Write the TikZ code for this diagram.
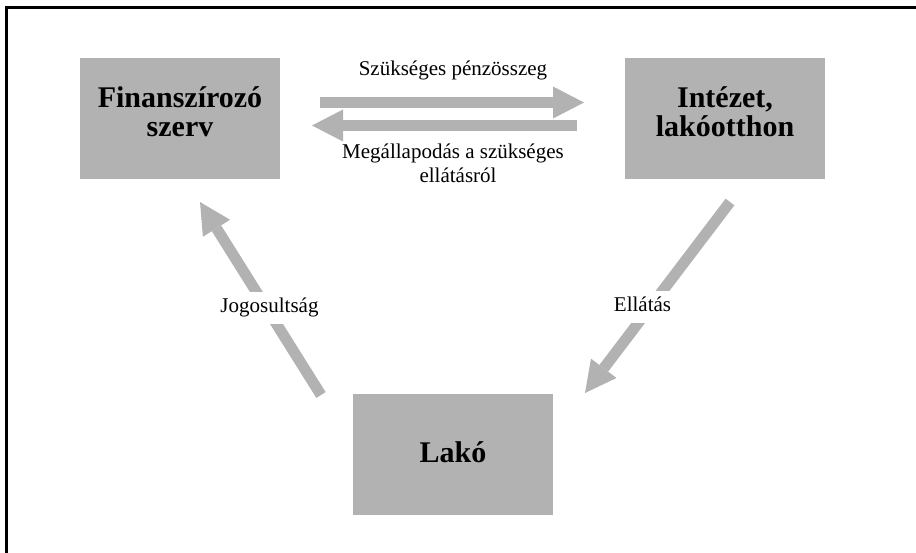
\documentclass[tikz,border=0pt]{standalone}
\usepackage{fontspec}
\setmainfont{Liberation Serif}
\usetikzlibrary{arrows.meta}
\definecolor{boxgray}{RGB}{178,178,178}
\begin{document}
\begin{tikzpicture}[x=1pt,y=-1pt,
  box/.style={fill=boxgray, draw=none, minimum width=200pt, minimum height=121pt, inner sep=0pt},
  boxtext/.style={font=\fontsize{30}{29}\selectfont\bfseries, anchor=base, inner sep=0pt},
  lbl/.style={font=\fontsize{21}{24}\selectfont, anchor=base, inner sep=0pt},
  cutlbl/.style={lbl, fill=white, text height=15pt, text depth=5pt, inner xsep=3pt, inner ysep=6pt},
  blockarrow/.style={draw=boxgray, line width=11pt, line cap=butt,
    -{Triangle[length=31pt,width=32pt,line width=0pt]}},
  frameline/.style={draw=black, line width=3pt, line join=miter}]
\useasboundingbox (0,0) rectangle (916,553);
% frame
\coordinate (ftr) at (916,8);
\coordinate (ftl) at (6,8);
\coordinate (fbl) at (6,553);
\draw[frameline] (ftr) -- (ftl) -- (fbl);
% boxes
\node[box] (fin) at (180,118.5) {};
\node[box] (int) at (725,118.5) {};
\node[box] (lako) at (453,454.5) {};
\node[boxtext] (fin1) at (180,108) {Finanszírozó};
\node[boxtext] (fin2) at (180,137) {szerv};
\node[boxtext] (int1) at (725,108) {Intézet,};
\node[boxtext] (int2) at (725,137) {lakóotthon};
\node[boxtext] (lako1) at (453,462) {Lakó};
% arrow end points
\coordinate (pt) at (320,102.5);
\coordinate (ph) at (584,102.5);
\coordinate (mt) at (577,125.5);
\coordinate (mh) at (312,125.5);
\coordinate (jt) at (321,395);
\coordinate (jh) at (200,202);
\coordinate (et) at (730,202);
\coordinate (eh) at (585,393);
\draw[blockarrow] (pt) -- (ph);
\draw[blockarrow] (mt) -- (mh);
\draw[blockarrow] (jt) -- (jh);
\draw[blockarrow] (et) -- (eh);
% labels
\node[lbl] (szuk) at (453,76) {Szükséges pénzösszeg};
\node[lbl] (meg1) at (453,159) {Megállapodás a szükséges};
\node[lbl] (meg2) at (458,183) {ellátásról};
\node[cutlbl] (jog) at (269.5,313) {Jogosultság};
\node[cutlbl] (ell) at (642.5,311.7) {Ellátás};
\end{tikzpicture}
\end{document}
